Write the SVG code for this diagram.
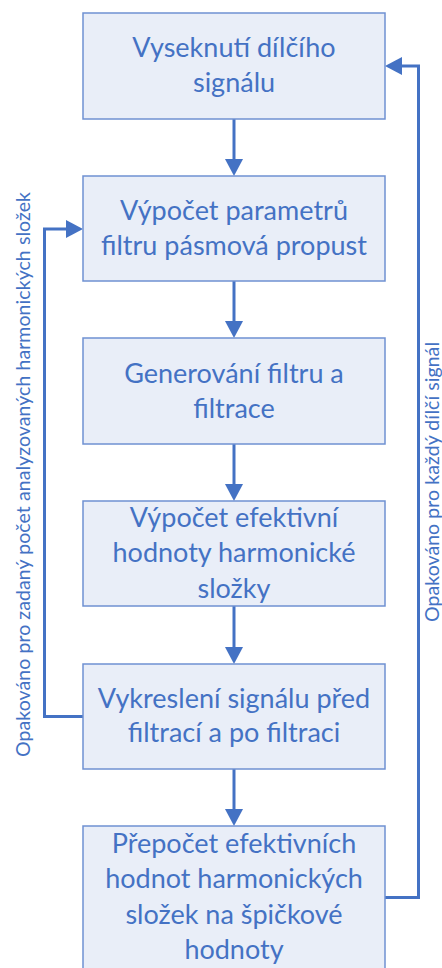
<svg xmlns="http://www.w3.org/2000/svg" width="442" height="968" viewBox="0 0 442 968">
<defs>
<style>
.box{fill:#E9EEF8;stroke:#6F91D2;stroke-width:1.5}
.t{font-family:Lato,"Open Sans","Liberation Sans",sans-serif;font-size:27px;fill:#4472C4;text-anchor:middle}
.r{font-family:Lato,"Open Sans","Liberation Sans",sans-serif;font-size:19.5px;fill:#4472C4;text-anchor:middle}
.c{fill:none;stroke:#4472C4;stroke-width:3}
</style>
<marker id="ah" markerUnits="userSpaceOnUse" markerWidth="18" markerHeight="18" viewBox="0 0 17 18" refX="7" refY="9" orient="auto">
<path d="M0,0 L17,9 L0,18 Z" fill="#4472C4"/>
</marker>
</defs>
<rect width="442" height="968" fill="#FFFFFF"/>
<g id="connectors">
<path class="c" d="M234,119 V166" marker-end="url(#ah)"/>
<path class="c" d="M234,281 V328" marker-end="url(#ah)"/>
<path class="c" d="M234,444 V491" marker-end="url(#ah)"/>
<path class="c" d="M234,606 V654" marker-end="url(#ah)"/>
<path class="c" d="M234,769 V816" marker-end="url(#ah)"/>
<path class="c" d="M83,716.5 H44.5 V229 H73" marker-end="url(#ah)"/>
<path class="c" d="M385,897.5 H418.5 V66 H395" marker-end="url(#ah)"/>
</g>
<g id="n1">
<rect class="box" x="83" y="13" width="302" height="106"/>
<text class="t" x="234" y="57">Vyseknutí dílčího</text>
<text class="t" x="234" y="92">signálu</text>
</g>
<g id="n2">
<rect class="box" x="83" y="176" width="302" height="105"/>
<text class="t" x="234" y="220">Výpočet parametrů</text>
<text class="t" x="234" y="255">filtru pásmová propust</text>
</g>
<g id="n3">
<rect class="box" x="83" y="338" width="302" height="106"/>
<text class="t" x="234" y="382.7">Generování filtru a</text>
<text class="t" x="234" y="417.7">filtrace</text>
</g>
<g id="n4">
<rect class="box" x="83" y="501" width="302" height="105"/>
<text class="t" x="234" y="527.3">Výpočet efektivní</text>
<text class="t" x="234" y="562.3">hodnoty harmonické</text>
<text class="t" x="234" y="597.5">složky</text>
</g>
<g id="n5">
<rect class="box" x="83" y="664" width="302" height="105"/>
<text class="t" x="234" y="707.7">Vykreslení signálu před</text>
<text class="t" x="234" y="742.3">filtrací a po filtraci</text>
</g>
<g id="n6">
<rect class="box" x="83" y="826" width="302" height="143"/>
<text class="t" x="234" y="853.3">Přepočet efektivních</text>
<text class="t" x="234" y="888.3">hodnot harmonických</text>
<text class="t" x="234" y="924">složek na špičkové</text>
<text class="t" x="234" y="959">hodnoty</text>
</g>
<g id="loop-labels">
<text class="r" transform="translate(30,474.5) rotate(-90)" textLength="565" lengthAdjust="spacing">Opakováno pro zadaný počet analyzovaných harmonických složek</text>
<text class="r" transform="translate(439,482) rotate(-90)" textLength="280" lengthAdjust="spacing">Opakováno pro každý dílčí signál</text>
</g>
</svg>
